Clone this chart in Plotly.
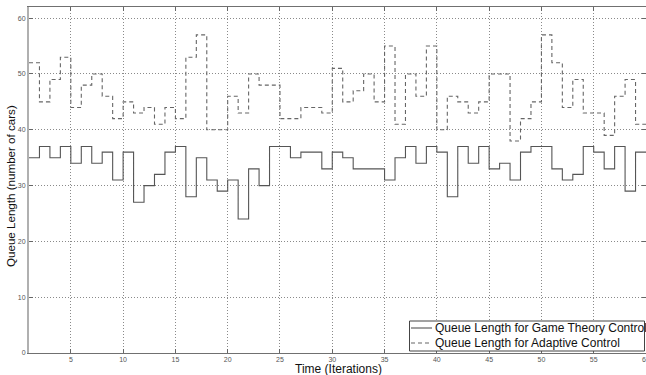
import plotly.graph_objects as go

iterations = list(range(1, 61))
game_theory = [35, 37, 35, 37, 34, 37, 34, 36, 31, 36,
               27, 30, 32, 36, 37, 28, 35, 31, 29, 31,
               24, 33, 30, 37, 37, 35, 36, 36, 33, 36,
               35, 33, 33, 33, 31, 35, 37, 34, 37, 36,
               28, 37, 34, 37, 33, 34, 31, 36, 37, 37,
               33, 31, 32, 37, 36, 33, 37, 29, 36, 36]
adaptive = [52, 45, 49, 53, 44, 48, 50, 46, 42, 45,
            43, 44, 41, 44, 42, 53, 57, 40, 40, 46,
            43, 50, 48, 48, 42, 42, 44, 44, 43, 51,
            45, 47, 50, 45, 55, 41, 50, 46, 55, 40,
            46, 45, 43, 45, 50, 50, 38, 42, 45, 57,
            52, 44, 49, 43, 43, 39, 46, 49, 41, 41]
x_ticks = [5, 10, 15, 20, 25, 30, 35, 40, 45, 50, 55, 60]
y_ticks = [0, 10, 20, 30, 40, 50, 60]
series_names = ["Queue Length for Game Theory Control",
                "Queue Length for Adaptive Control"]
x_title = "Time (Iterations)"
y_title = "Queue Length (number of cars)"

FONT = "Liberation Sans, Arial, sans-serif"
W, H = 646, 375
ML, MR, MT, MB = 29, 0, 7, 22
PW, PH = W - ML - MR, H - MT - MB


def px(xp):
    return (xp - ML) / PW


def py(yp):
    return (H - MB - yp) / PH


LINE_STYLES = [dict(color="#555555", width=1.1),
               dict(color="#666666", width=1.1, dash="4px,3px")]

fig = go.Figure()
for vals, name, ls in zip([game_theory, adaptive], series_names, LINE_STYLES):
    fig.add_trace(go.Scatter(x=iterations, y=vals, mode="lines", line_shape="hv",
                             line=ls, name=name, showlegend=False, hoverinfo="skip"))

axis_common = dict(showgrid=True, gridcolor="#8a8a8a", griddash="1px,2px", gridwidth=1,
                   zeroline=False, showline=True, mirror="ticks", ticks="inside",
                   ticklen=4, tickcolor="#666", ticklabeloverflow="allow",
                   tickfont=dict(family=FONT, size=7, color="#555"))

fig.update_layout(
    width=W, height=H,
    margin=dict(l=ML, r=MR, t=MT, b=MB, autoexpand=False),
    paper_bgcolor="white", plot_bgcolor="white",
    showlegend=False,
    xaxis=dict(range=[1, 60], tickvals=x_ticks, ticktext=[str(v) for v in x_ticks],
               linecolor="#707070", linewidth=1, automargin=False, **axis_common),
    yaxis=dict(range=[0, 62], tickvals=y_ticks, ticktext=[str(v) for v in y_ticks],
               linecolor="#b0b0b0", linewidth=2, automargin=False, **axis_common),
)

# axis titles
fig.add_annotation(text=x_title, x=px(338), y=py(369), xref="paper", yref="paper",
                   xanchor="center", yanchor="middle", showarrow=False,
                   font=dict(family=FONT, size=12, color="#111"))
fig.add_annotation(text=y_title, x=px(11), y=py(186), xref="paper", yref="paper",
                   xanchor="center", yanchor="middle", textangle=-90, showarrow=False,
                   font=dict(family=FONT, size=11.6, color="#111"))

# legend box (drawn to match the original compact legend)
fig.add_shape(type="rect", xref="paper", yref="paper",
              x0=px(409.5), x1=px(644.5), y0=py(351), y1=py(321),
              line=dict(color="#444", width=1), fillcolor="white", layer="above")
for i, (name, ls) in enumerate(zip(series_names, LINE_STYLES)):
    yrow = 328 + 15 * i
    fig.add_shape(type="line", xref="paper", yref="paper",
                  x0=px(411), x1=px(432), y0=py(yrow), y1=py(yrow),
                  line=ls, layer="above")
    fig.add_annotation(text=name, x=px(433), y=py(yrow), xref="paper", yref="paper",
                       xanchor="left", yanchor="middle", showarrow=False,
                       font=dict(family=FONT, size=12, color="#111"))

fig.write_html("out.html", config={"displayModeBar": False},
               post_script="document.body.style.margin='0';")
